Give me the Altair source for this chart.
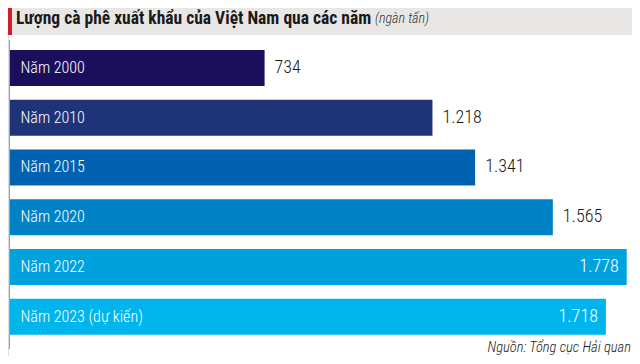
import altair as alt
import pandas as pd

labels = ["Năm 2000", "Năm 2010", "Năm 2015", "Năm 2020", "Năm 2022", "Năm 2023 (dự kiến)"]
values = [734, 1218, 1341, 1565, 1778, 1718]
value_text = ["734", "1.218", "1.341", "1.565", "1.778", "1.718"]
colors = ["#1b0f5b", "#1f3379", "#0062b0", "#0082c6", "#00a2de", "#00b5ec"]

title_text = "Lượng cà phê xuất khẩu của Việt Nam qua các năm"
subtitle_text = "(ngàn tấn)"
source_text = "Nguồn: Tổng cục Hải quan"

df = pd.DataFrame({"label": labels, "value": values, "vtext": value_text})

W, H = 624, 348
FONT = "Roboto Condensed, Roboto"

xscale = alt.Scale(domain=[0, 1778], range=[2, 618.7], nice=False, zero=True)
yscale = alt.Scale(domain=labels, range=[35.13, 333.6], paddingInner=0.28, paddingOuter=0.14)

base = alt.Chart(df).encode(
    y=alt.Y("label:N", sort=None, scale=yscale, axis=None),
)

bars = base.mark_bar(cornerRadius=0).encode(
    x=alt.X("value:Q", scale=xscale, axis=None),
    color=alt.Color("label:N", sort=None, scale=alt.Scale(domain=labels, range=colors), legend=None),
)

cat_text = base.mark_text(align="left", baseline="middle", font=FONT, fontWeight=300, fontSize=16, color="white").encode(
    x=alt.value(12.5),
    text="label:N",
)

out_text = base.transform_filter("datum.value < 1700").mark_text(
    align="left", baseline="middle", dx=10, font=FONT, fontWeight=300, fontSize=18, color="#1a1a1a"
).encode(
    x=alt.X("value:Q", scale=xscale, axis=None),
    text="vtext:N",
)

in_text = base.transform_filter("datum.value >= 1700").mark_text(
    align="right", baseline="middle", dx=-8, font=FONT, fontWeight=300, fontSize=18, color="white"
).encode(
    x=alt.X("value:Q", scale=xscale, axis=None),
    text="vtext:N",
)

one = alt.Data(values=[{"k": 1}])

header = alt.Chart(one).mark_rect(color="#e9e7e6").encode(
    x=alt.value(0), x2=alt.value(W), y=alt.value(0), y2=alt.value(27)
)
stripe = alt.Chart(one).mark_rect(color="#cf1f2e").encode(
    x=alt.value(0), x2=alt.value(4), y=alt.value(0), y2=alt.value(27)
)
title = alt.Chart(one).mark_text(
    align="left", baseline="alphabetic", font=FONT, fontWeight="bold", fontSize=17.5, color="#1a1a1a"
).encode(x=alt.value(8), y=alt.value(15.5), text=alt.value(title_text))
subtitle = alt.Chart(one).mark_text(
    align="left", baseline="alphabetic", font=FONT, fontStyle="italic", fontWeight=300, fontSize=14, color="#333333"
).encode(x=alt.value(367), y=alt.value(15), text=alt.value(subtitle_text))
axis_line = alt.Chart(one).mark_rule(color="#a0a0a0", strokeWidth=1).encode(
    x=alt.value(1.5), y=alt.value(32), y2=alt.value(341)
)
source = alt.Chart(one).mark_text(
    align="right", baseline="alphabetic", font=FONT, fontStyle="italic", fontWeight=300, fontSize=14.5, color="#1a1a1a"
).encode(x=alt.value(623), y=alt.value(343.5), text=alt.value(source_text))

chart = alt.layer(
    header, stripe, title, subtitle, axis_line, bars, cat_text, out_text, in_text, source
).properties(
    width=W, height=H, autosize=alt.AutoSizeParams(type="none"), padding=0
).configure_view(stroke=None).configure(background="white")

chart.save("out.html", embed_options={"renderer": "svg", "actions": False})
